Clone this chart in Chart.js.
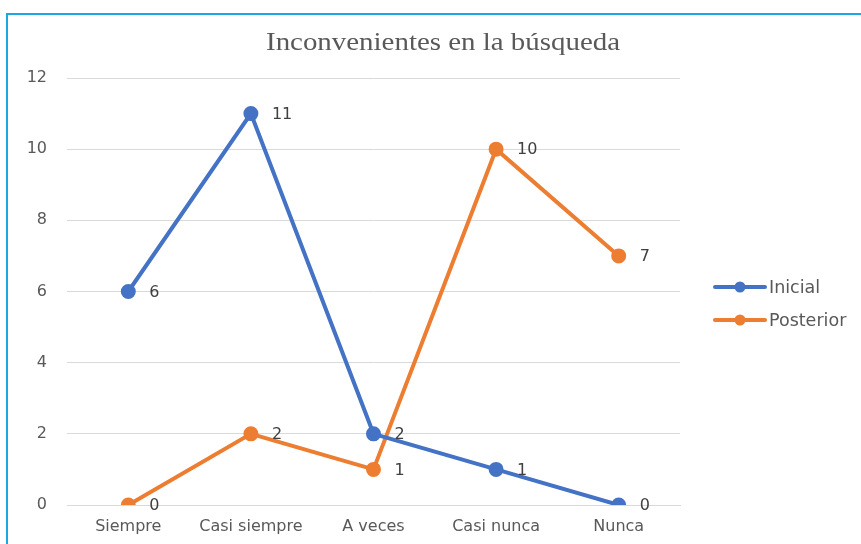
<!DOCTYPE html>
<html>
<head>
<meta charset="utf-8">
<script src="https://cdn.jsdelivr.net/npm/chart.js@4.4.1/dist/chart.umd.min.js"></script>
<style>
  html, body { margin: 0; padding: 0; background: #fff; }
  #wrap { position: relative; width: 861px; height: 544px; overflow: hidden; }
  #frame { position: absolute; left: 6px; top: 13px; width: 900px; height: 600px; border-left: 2px solid #1EA6E2; border-top: 2px solid #1EA6E2; box-sizing: border-box; pointer-events: none; }
  canvas { position: absolute; left: 0; top: 0; }
</style>
</head>
<body>
<div id="wrap">
  <canvas id="c" width="861" height="544"></canvas>
  <div id="frame"></div>
</div>
<script>
const categories = ['Siempre', 'Casi siempre', 'A veces', 'Casi nunca', 'Nunca'];
const inicial = [6, 11, 2, 1, 0];
const posterior = [0, 2, 1, 10, 7];
const seriesNames = ['Inicial', 'Posterior'];
const chartTitle = 'Inconvenientes en la búsqueda';

const BLUE = '#4472C4';
const ORANGE = '#ED7D31';
const SANS = '"DejaVu Sans", sans-serif';

const titlePlugin = {
  id: 'customTitle',
  afterDraw(chart) {
    const ctx = chart.ctx;
    ctx.save();
    ctx.font = '25px "Liberation Serif", serif';
    ctx.fillStyle = '#595959';
    ctx.textAlign = 'center';
    ctx.textBaseline = 'alphabetic';
    const w = ctx.measureText(chartTitle).width;
    const sx = 354 / w;
    ctx.translate(443, 50);
    ctx.scale(sx, 1);
    ctx.fillText(chartTitle, 0, 0);
    ctx.restore();
  }
};

const dataLabels = {
  id: 'dataLabels',
  afterDatasetsDraw(chart) {
    const ctx = chart.ctx;
    ctx.save();
    ctx.font = '16px ' + SANS;
    ctx.fillStyle = '#404040';
    ctx.textAlign = 'left';
    ctx.textBaseline = 'middle';
    chart.data.datasets.forEach((ds, i) => {
      const meta = chart.getDatasetMeta(i);
      meta.data.forEach((pt, j) => {
        ctx.fillText(String(ds.data[j]), pt.x + 21, pt.y + 1);
      });
    });
    ctx.restore();
  }
};

const sideLegend = {
  id: 'sideLegend',
  afterDraw(chart) {
    const ctx = chart.ctx;
    ctx.save();
    const x0 = 715, x1 = 765, ys = [287, 320];
    chart.data.datasets.forEach((ds, i) => {
      const y = ys[i];
      ctx.strokeStyle = ds.borderColor;
      ctx.lineWidth = 4;
      ctx.lineCap = 'round';
      ctx.beginPath(); ctx.moveTo(x0, y); ctx.lineTo(x1, y); ctx.stroke();
      ctx.fillStyle = ds.borderColor;
      ctx.beginPath(); ctx.arc((x0 + x1) / 2, y, 5.5, 0, Math.PI * 2); ctx.fill();
      ctx.font = '17.5px ' + SANS;
      ctx.fillStyle = '#595959';
      ctx.textAlign = 'left';
      ctx.textBaseline = 'middle';
      ctx.fillText(ds.label, 769, y + 1);
    });
    ctx.restore();
  }
};

new Chart(document.getElementById('c'), {
  type: 'line',
  data: {
    labels: categories,
    datasets: [
      { label: seriesNames[0], data: inicial, borderColor: BLUE, backgroundColor: BLUE, borderWidth: 4, pointRadius: 5.5, pointHoverRadius: 5.5, tension: 0 },
      { label: seriesNames[1], data: posterior, borderColor: ORANGE, backgroundColor: ORANGE, borderWidth: 4, pointRadius: 5.5, pointHoverRadius: 5.5, tension: 0 }
    ]
  },
  options: {
    responsive: false,
    animation: false,
    layout: { padding: { left: 0, right: 181, top: 78, bottom: 0 } },
    plugins: {
      legend: { display: false },
      tooltip: { enabled: false },
      title: { display: false }
    },
    scales: {
      x: {
        offset: true,
        afterFit(scale) { scale.height = 39; },
        grid: { display: false, drawTicks: false },
        border: { display: true, color: '#D9D9D9', width: 1 },
        ticks: { color: '#595959', font: { family: SANS, size: 16 }, padding: 12, maxRotation: 0, autoSkip: false }
      },
      y: {
        min: 0, max: 12,
        afterFit(scale) { scale.width = 67; },
        grid: { color: '#D9D9D9', lineWidth: 1, drawTicks: false },
        border: { display: false },
        ticks: { stepSize: 2, color: '#595959', font: { family: SANS, size: 16 }, padding: 20 }
      }
    }
  },
  plugins: [dataLabels, sideLegend, titlePlugin]
});
</script>
</body>
</html>
